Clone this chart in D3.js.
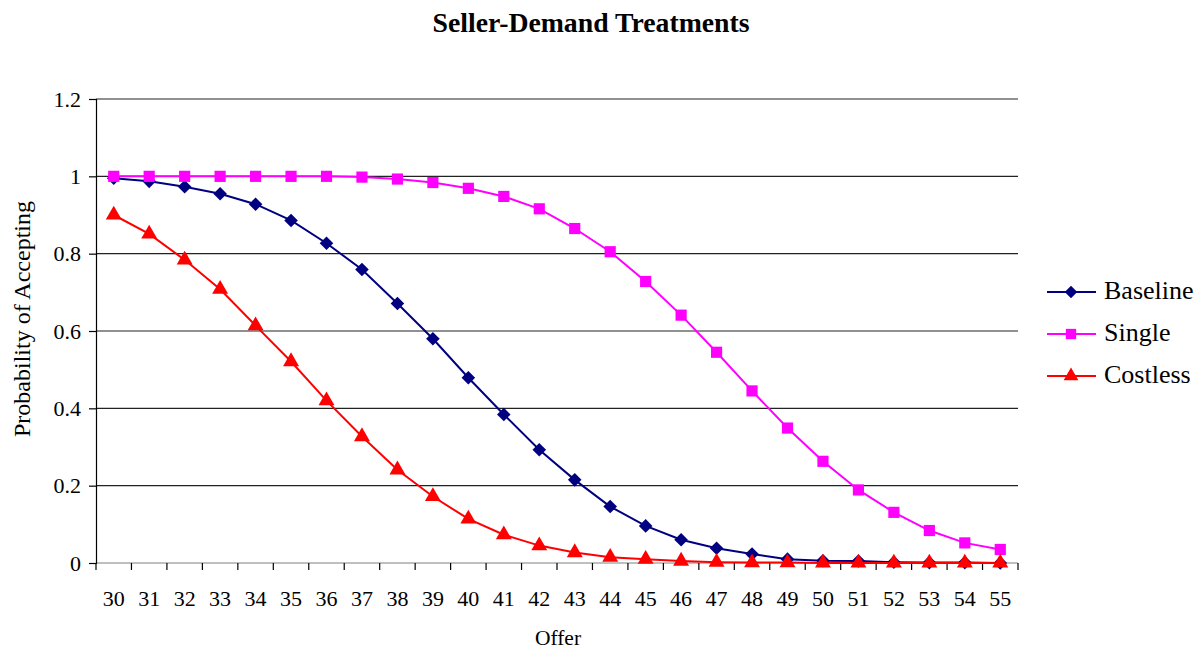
<!DOCTYPE html>
<html>
<head>
<meta charset="utf-8">
<script src="https://cdn.jsdelivr.net/npm/d3@7"></script>
<style>
  body { margin: 0; background: #fff; }
  svg text { font-family: "Liberation Serif", "Times New Roman", serif; }
</style>
</head>
<body>
<svg id="chart"></svg>
<script>
const width = 1203;
const height = 654;

// données
const offers = [30, 31, 32, 33, 34, 35, 36, 37, 38, 39, 40, 41, 42, 43, 44, 45, 46, 47, 48, 49, 50, 51, 52, 53, 54, 55];
const baseline = [0.995, 0.987, 0.973, 0.955, 0.928, 0.886, 0.827, 0.759, 0.671, 0.580, 0.479, 0.384, 0.293, 0.215, 0.146, 0.096, 0.060, 0.038, 0.023, 0.010, 0.006, 0.005, 0.002, 0.001, 0.001, 0.000];
const single = [1.0, 1.0, 1.0, 1.0, 1.0, 1.0, 1.0, 0.998, 0.993, 0.984, 0.969, 0.948, 0.916, 0.865, 0.805, 0.728, 0.641, 0.545, 0.445, 0.349, 0.263, 0.189, 0.131, 0.084, 0.052, 0.035];
const costless = [0.900, 0.851, 0.784, 0.708, 0.614, 0.521, 0.420, 0.327, 0.241, 0.172, 0.114, 0.073, 0.045, 0.027, 0.015, 0.010, 0.005, 0.002, 0.001, 0.001, 0.000, 0.000, 0.000, 0.000, 0.000, 0.000];
const yTicks = [0, 0.2, 0.4, 0.6, 0.8, 1, 1.2];
const seriesNames = ["Baseline", "Single", "Costless"];

const series = [
  { name: seriesNames[0], values: baseline, color: "#000080", symbol: d3.symbolSquare, size: 92, rotate: 45 },
  { name: seriesNames[1], values: single, color: "#FF00FF", symbol: d3.symbolSquare, size: 125, rotate: 0 },
  { name: seriesNames[2], values: costless, color: "#FF0000", symbol: d3.symbolTriangle, size: 110, rotate: 0 }
];

const margin = { left: 96, right: 185, top: 99, bottom: 91 };
const font = "Liberation Serif, Times New Roman, serif";

const svg = d3.select("#chart").attr("width", width).attr("height", height);

const x = d3.scaleBand()
  .domain(offers)
  .range([margin.left, width - margin.right])
  .padding(0);

const y = d3.scaleLinear()
  .domain([0, 1.2])
  .range([height - margin.bottom, margin.top]);

// lignes de grille
svg.append("g")
  .selectAll("line")
  .data(yTicks)
  .enter()
  .append("line")
  .attr("x1", margin.left)
  .attr("x2", width - margin.right)
  .attr("y1", d => y(d))
  .attr("y2", d => y(d))
  .attr("stroke", d => d === 0 ? "#808080" : "#222")
  .attr("stroke-width", 1.2);

// axe Y
const yAxis = svg.append("g")
  .attr("transform", `translate(${margin.left},0)`)
  .call(d3.axisLeft(y).tickValues(yTicks).tickSize(7).tickPadding(8).tickFormat(d3.format("")));
yAxis.select(".domain").attr("stroke", "#000").attr("stroke-width", 1.2);
yAxis.selectAll(".tick line").attr("stroke", "#000").attr("stroke-width", 1.2);
yAxis.selectAll("text").attr("font-size", 22).attr("fill", "#000").attr("font-family", font);

// axe X : étiquettes au centre, graduations aux bords
const xAxis = svg.append("g")
  .attr("transform", `translate(0,${y(0)})`)
  .call(d3.axisBottom(x).tickSize(0).tickPadding(27));
xAxis.select(".domain").remove();
xAxis.selectAll("text").attr("font-size", 22).attr("fill", "#000").attr("font-family", font);

const edges = offers.map(o => x(o)).concat([x(offers[offers.length - 1]) + x.bandwidth()]);
svg.append("g")
  .selectAll("line")
  .data(edges)
  .enter()
  .append("line")
  .attr("x1", d => d)
  .attr("x2", d => d)
  .attr("y1", y(0))
  .attr("y2", y(0) + 7)
  .attr("stroke", "#000")
  .attr("stroke-width", 1.2);

// courbes et marqueurs
const line = d3.line()
  .x((d, i) => x(offers[i]) + x.bandwidth() / 2)
  .y(d => y(d));

series.forEach(s => {
  svg.append("path")
    .datum(s.values)
    .attr("d", line)
    .attr("fill", "none")
    .attr("stroke", s.color)
    .attr("stroke-width", 2);

  svg.append("g")
    .selectAll("path")
    .data(s.values)
    .enter()
    .append("path")
    .attr("d", d3.symbol().type(s.symbol).size(s.size))
    .attr("transform", (d, i) => `translate(${x(offers[i]) + x.bandwidth() / 2},${y(d)}) rotate(${s.rotate})`)
    .attr("fill", s.color);
});

// légende
const legend = svg.append("g");
series.forEach((s, i) => {
  const ly = 292 + i * 42;
  legend.append("line")
    .attr("x1", 1047).attr("x2", 1096)
    .attr("y1", ly).attr("y2", ly)
    .attr("stroke", s.color).attr("stroke-width", 2);
  legend.append("path")
    .attr("d", d3.symbol().type(s.symbol).size(s.size * 0.85))
    .attr("transform", `translate(1071,${ly}) rotate(${s.rotate})`)
    .attr("fill", s.color);
  legend.append("text")
    .attr("x", 1104)
    .attr("y", ly + 7)
    .attr("font-size", 26)
    .attr("font-family", font)
    .attr("fill", "#000")
    .text(s.name);
});

// titres
svg.append("text")
  .attr("x", 591)
  .attr("y", 32)
  .attr("text-anchor", "middle")
  .attr("font-size", 27)
  .attr("font-weight", "bold")
  .attr("font-family", font)
  .attr("textLength", 317)
  .attr("lengthAdjust", "spacingAndGlyphs")
  .text("Seller-Demand Treatments");

svg.append("text")
  .attr("x", 558)
  .attr("y", 645)
  .attr("text-anchor", "middle")
  .attr("font-size", 21.5)
  .attr("font-family", font)
  .text("Offer");

svg.append("text")
  .attr("transform", `translate(30,${y(0.6) - 12}) rotate(-90)`)
  .attr("text-anchor", "middle")
  .attr("font-size", 24)
  .attr("font-family", font)
  .text("Probability of Accepting");
</script>
</body>
</html>
